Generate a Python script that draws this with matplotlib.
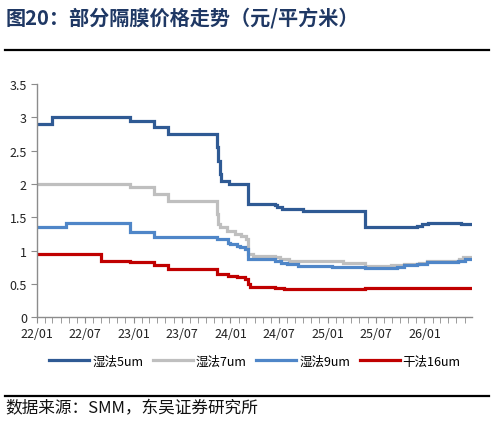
import matplotlib
matplotlib.use("Agg")
import matplotlib.pyplot as plt
import matplotlib.dates as mdates
import numpy as np
import pandas as pd

plt.rcParams['font.family'] = ['Noto Sans CJK SC', 'DejaVu Sans']

end_date = "2026-06-25"

wet5_dates = ["2022-01-01", "2022-03-01", "2022-12-17", "2023-03-20", "2023-05-10",
              "2023-11-13", "2023-11-17", "2023-11-21", "2023-11-27", "2023-12-28",
              "2024-03-07", "2024-06-16", "2024-06-25", "2024-07-15", "2024-08-20",
              "2024-10-01", "2025-05-22", "2025-12-03", "2025-12-22", "2026-01-15",
              "2026-05-20", end_date]
wet5_vals = [2.90, 3.00, 2.95, 2.85, 2.75,
             2.55, 2.35, 2.15, 2.05, 2.00,
             1.70, 1.68, 1.65, 1.63, 1.62,
             1.60, 1.35, 1.37, 1.40, 1.41,
             1.40, 1.40]

wet7_dates = ["2022-01-01", "2022-12-17", "2023-03-20", "2023-05-10", "2023-11-13",
              "2023-11-17", "2023-11-21", "2023-12-20", "2024-01-20", "2024-02-10",
              "2024-02-28", "2024-03-07", "2024-03-25", "2024-06-16", "2024-07-05",
              "2024-08-10", "2024-10-01", "2025-03-01", "2025-05-22", "2025-08-28",
              "2025-10-15", "2025-12-10", "2026-01-10", "2026-05-10", "2026-05-25",
              end_date]
wet7_vals = [2.00, 1.95, 1.85, 1.75, 1.55,
             1.40, 1.35, 1.30, 1.25, 1.22,
             1.18, 0.95, 0.92, 0.90, 0.87,
             0.85, 0.84, 0.82, 0.77, 0.78,
             0.80, 0.82, 0.85, 0.87, 0.90,
             0.90]

wet9_dates = ["2022-01-01", "2022-04-22", "2022-12-17", "2023-03-20", "2023-11-13",
              "2023-12-23", "2023-12-29", "2024-01-24", "2024-02-06", "2024-02-25",
              "2024-03-07", "2024-06-16", "2024-07-10", "2024-08-01", "2024-09-10",
              "2025-01-17", "2025-05-22", "2025-09-19", "2025-10-15", "2025-12-03",
              "2026-01-10", "2026-05-07", "2026-06-01", end_date]
wet9_vals = [1.35, 1.42, 1.28, 1.20, 1.18,
             1.12, 1.10, 1.07, 1.05, 1.02,
             0.88, 0.85, 0.82, 0.80, 0.77,
             0.76, 0.74, 0.75, 0.78, 0.80,
             0.83, 0.85, 0.87, 0.88]

dry16_dates = ["2022-01-01", "2022-09-02", "2022-12-17", "2023-03-20", "2023-05-10",
               "2023-11-13", "2023-12-23", "2024-01-24", "2024-02-25", "2024-03-07",
               "2024-03-15", "2024-06-16", "2024-07-20", "2024-08-10", "2025-03-25",
               "2025-05-22", end_date]
dry16_vals = [0.95, 0.85, 0.83, 0.78, 0.73,
              0.65, 0.62, 0.60, 0.57, 0.50,
              0.45, 0.44, 0.43, 0.42, 0.43,
              0.44, 0.44]

series_names = ["湿法5um", "湿法7um", "湿法9um", "干法16um"]
series_colors = ["#2F5A94", "#BFBFBF", "#4F86C8", "#C00000"]

W, H = 495, 435
fig = plt.figure(figsize=(W / 100, H / 100), dpi=100)
ax = fig.add_axes([36.7 / W, 116.7 / H, (472.2 - 36.7) / W, (318.3 - 85) / H])

data = [(wet5_dates, wet5_vals), (wet7_dates, wet7_vals),
        (wet9_dates, wet9_vals), (dry16_dates, dry16_vals)]
for (d, v), name, c in zip(data, series_names, series_colors):
    ax.plot(pd.to_datetime(d), v, drawstyle="steps-post", color=c, lw=2.3,
            label=name, solid_joinstyle="miter")

ax.set_xlim(pd.Timestamp("2022-01-01"), pd.Timestamp("2026-06-30"))
ax.set_ylim(0, 3.5)
ax.set_yticks(np.arange(0, 3.51, 0.5))
ax.set_yticklabels(["0", "0.5", "1", "1.5", "2", "2.5", "3", "3.5"])

ax.xaxis.set_major_locator(mdates.MonthLocator(bymonth=[1, 7]))
ax.xaxis.set_major_formatter(mdates.DateFormatter("%y/%m"))
ax.xaxis.set_minor_locator(mdates.MonthLocator())

for s in ["top", "right"]:
    ax.spines[s].set_visible(False)
for s in ["left", "bottom"]:
    ax.spines[s].set_color("#8C8C8C")
    ax.spines[s].set_linewidth(1.0)

ax.tick_params(axis="both", which="both", direction="out", color="#8C8C8C",
               labelsize=9, labelcolor="#222222")
ax.tick_params(axis="x", which="major", length=4, pad=3)
ax.tick_params(axis="x", which="minor", length=4)
ax.tick_params(axis="y", which="major", length=4, pad=3)

leg = fig.legend(loc="center", bbox_to_anchor=(255 / W, 1 - 362 / H), ncol=4,
                 frameon=False, fontsize=9, handlelength=3.2, handletextpad=0.25,
                 columnspacing=0.75)
for line in leg.get_lines():
    line.set_linewidth(2.3)

fig.text(6 / W, 1 - 19 / H, "图20：部分隔膜价格走势（元/平方米）", fontsize=14.5,
         fontweight="bold", color="#1F3864", ha="left", va="center")
fig.add_artist(plt.Line2D([5 / W, 489 / W], [1 - 50.5 / H, 1 - 50.5 / H],
                          color="black", lw=1.6))
fig.add_artist(plt.Line2D([5 / W, 489 / W], [1 - 396.5 / H, 1 - 396.5 / H],
                          color="black", lw=1.6))
fig.text(5 / W, 1 - 409 / H, "数据来源：SMM，东吴证券研究所", fontsize=12,
         color="#111111", ha="left", va="center")

fig.savefig("out.png", dpi=100)
